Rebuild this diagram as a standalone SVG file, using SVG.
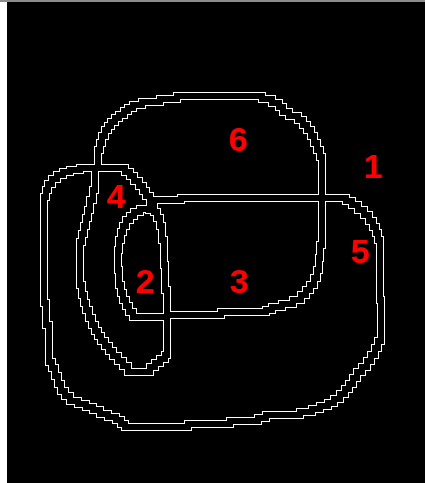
<svg xmlns="http://www.w3.org/2000/svg" width="425" height="483" viewBox="0 0 425 483">
<style>
.w{fill:none;stroke:#ffffff;stroke-width:8;stroke-linejoin:miter;stroke-linecap:square}
.b{fill:none;stroke:#000000;stroke-width:6;stroke-linejoin:miter;stroke-linecap:square}
.lbl{font-family:"Liberation Sans",Arial,sans-serif;font-weight:bold;font-size:34px;fill:#ff0000;text-anchor:middle}
</style>
<defs>
<path id="p1" d="M98,168 V150 H100 V143 H102 V136 H105 V130 H108 V126 H111 V122 H115 V118 H119 V115 H124 V111 H128 V108 H133 V105 H142 V102 H160 V99 H177 V96 H262 V99 H272 V103 H279 V107 H283 V112 H289 V116 H298 V120 H303 V125 H307 V130 H311 V136 H314 V143 H317 V150 H320 V157 H322 V198"/>
<path id="p2" d="M98,168 H125 V172 H130 V176 H134 V181 H139 V186 H143 V191 H146 V196 H150 V200 H181 V198 H322"/>
<path id="p3" d="M150,200 V206 H154 V212"/>
<path id="p4" d="M154,212 H157 V218 H160 V226 H162 V240 H164 V265 H165 V290 H167 V317"/>
<path id="p5" d="M167,317 H133 V312 H129 V306 H126 V300 H123 V293 H121 V285 H119 V270 H118 V250 H119 V240 H121 V232 H123 V226 H126 V220 H130 V216 H134 V212 H140 V209 H149 V210 H154 V212"/>
<path id="p6" d="M98,168 H95 V190 H93 V200 H90 V210 H88 V218 H86 V226 H84 V234 H82 V242 H80 V285 H82 V295 H84 V303 H86 V310 H89 V318 H92 V325 H95 V331 H98 V336 H101 V341 H105 V346 H109 V351 H113 V356 H118 V361 H123 V366 H128 V372 H150 V367 H155 V363 H160 V359 H165 V355 H167 V317"/>
<path id="p7" d="M98,168 H80 V170 H70 V172 H63 V175 H57 V179 H52 V184 H48 V190 H46 V197 H44 V303 H46 V325 H49 V362 H52 V368 H55 V376 H58 V384 H61 V391 H65 V396 H70 V401 H78 V404 H86 V407 H93 V410 H100 V414 H108 V417 H116 V420 H121 V424 H125 V427 H188 V424 H230 V421 H258 V418 H266 V415 H300 V412 H312 V409 H320 V406 H328 V403 H334 V399 H340 V394 H345 V389 H349 V384 H353 V378 H357 V372 H362 V367 H367 V361 H371 V355 H375 V348 H378 V341 H381 V300 H380 V240 H378 V233 H376 V227 H373 V221 H369 V215 H364 V210 H358 V205 H352 V201 H346 V198 H322"/>
<path id="p8" d="M167,317 V315 H221 V312 H266 V310 H272 V307 H282 V304 H293 V300 H301 V295 H306 V290 H310 V285 H314 V278 H317 V270 H319 V258 H320 V245 H322 V198"/>
</defs>
<rect x="0" y="0" width="425" height="483" fill="#ffffff"/>
<rect x="7" y="0" width="418" height="483" fill="#000000"/>
<rect x="0" y="0" width="425" height="2" fill="#8c8c8c"/>
<g id="connectors">
<g id="boundary-white">
<use href="#p1" class="w"/><use href="#p2" class="w"/><use href="#p3" class="w"/><use href="#p4" class="w"/>
<use href="#p5" class="w"/><use href="#p6" class="w"/><use href="#p7" class="w"/><use href="#p8" class="w"/>
</g>
<g id="boundary-black">
<use href="#p1" class="b"/><use href="#p2" class="b"/><use href="#p3" class="b"/><use href="#p4" class="b"/>
<use href="#p5" class="b"/><use href="#p6" class="b"/><use href="#p7" class="b"/><use href="#p8" class="b"/>
</g>
</g>
<g id="region-1"><text class="lbl" x="373" y="178">1</text></g>
<g id="region-2"><text class="lbl" x="145" y="293">2</text></g>
<g id="region-3"><text class="lbl" x="239" y="293">3</text></g>
<g id="region-4"><text class="lbl" x="116" y="208">4</text></g>
<g id="region-5"><text class="lbl" x="360" y="263">5</text></g>
<g id="region-6"><text class="lbl" x="238" y="151">6</text></g>
</svg>
